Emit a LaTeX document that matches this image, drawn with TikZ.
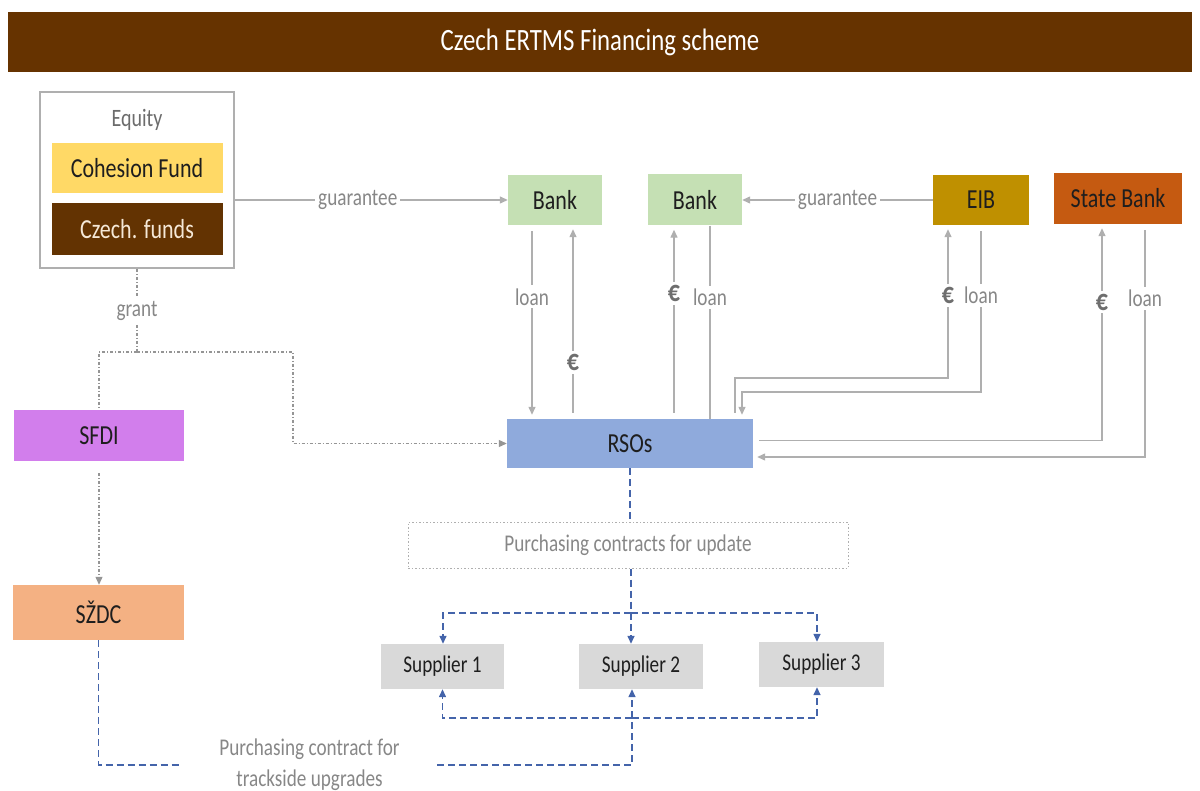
\documentclass[tikz,border=0pt]{standalone}
\usepackage{fontspec}
\setmainfont{Carlito}[FakeStretch=0.8]
\usetikzlibrary{arrows.meta}
\definecolor{titlebrown}{RGB}{102,51,0}
\definecolor{fundyellow}{RGB}{255,217,102}
\definecolor{fundbrown}{RGB}{99,51,2}
\definecolor{bankgreen}{RGB}{197,224,180}
\definecolor{eibgold}{RGB}{191,144,0}
\definecolor{stateorange}{RGB}{197,90,17}
\definecolor{rsoblue}{RGB}{143,170,220}
\definecolor{sfdiviolet}{RGB}{210,126,236}
\definecolor{szdcsalmon}{RGB}{244,177,131}
\definecolor{supgray}{RGB}{217,217,217}
\definecolor{boxtext}{RGB}{30,30,30}
\definecolor{lblgray}{RGB}{135,135,135}
\definecolor{eurogray}{RGB}{110,110,110}
\definecolor{linegray}{RGB}{175,175,175}
\definecolor{contractblue}{RGB}{68,100,170}
\tikzset{
  box/.style={inner sep=0pt, text=boxtext, font=\fontsize{27.5}{30}\selectfont},
  lbl/.style={fill=white, inner sep=3pt, text=lblgray, font=\fontsize{24}{26}\selectfont},
  euro/.style={fill=white, inner sep=3pt, text=eurogray, font=\fontsize{30}{32}\selectfont\bfseries},
  tip/.style={-{Triangle[length=8pt,width=7pt]}},
  link/.style={draw=linegray, line width=1.3pt},
  flow/.style={link, tip, shorten <=6pt, shorten >=4pt},
  grantline/.style={draw=linegray!85!black, line width=1.1pt, dash pattern=on 3pt off 2pt on 1pt off 2pt},
  blueline/.style={draw=contractblue, line width=1.4pt, dash pattern=on 7pt off 4pt}
}
\begin{document}
\begin{tikzpicture}[x=1pt, y=-1pt]
\useasboundingbox (0,0) rectangle (1200,791);

\node[fill=titlebrown, minimum width=1184pt, minimum height=60pt, text=white,
  font=\fontsize{31}{34}\selectfont] (title) at (600,42) {Czech ERTMS Financing scheme};

\node[draw=linegray, line width=2pt, minimum width=194pt, minimum height=176pt] (equity) at (137,180) {};
\node[text=lblgray!80!black, font=\fontsize{25}{28}\selectfont] (eqtitle) at (137,120) {Equity};
\node[box, fill=fundyellow, minimum width=171pt, minimum height=50pt] (cohesion) at (137,168) {Cohesion Fund};
\node[box, fill=fundbrown, text={rgb,255:red,245;green,232;blue,215}, minimum width=171pt, minimum height=52pt] (czfunds) at (137,229) {Czech. funds};

\node[box, fill=bankgreen, minimum width=94pt, minimum height=50pt] (bank1) at (555,200) {Bank};
\node[box, fill=bankgreen, minimum width=94pt, minimum height=51pt] (bank2) at (695,200) {Bank};
\node[box, fill=eibgold, minimum width=96pt, minimum height=50pt] (eib) at (981,200) {EIB};
\node[box, fill=stateorange, minimum width=128pt, minimum height=51pt] (statebank) at (1118,198.5) {State Bank};
\node[box, fill=rsoblue, minimum width=246pt, minimum height=49pt] (rsos) at (630,443.5) {RSOs};
\node[box, fill=sfdiviolet, minimum width=170pt, minimum height=51pt] (sfdi) at (99,435.5) {SFDI};
\node[box, fill=szdcsalmon, minimum width=171pt, minimum height=55pt] (szdc) at (98.5,612.5) {SŽDC};

\node[draw=linegray, line width=1pt, dash pattern=on 1.5pt off 2pt, minimum width=440pt, minimum height=46pt,
  text=lblgray, font=\fontsize{24}{26}\selectfont] (update) at (628,545) {Purchasing contracts for update};

\node[box, fill=supgray, minimum width=123pt, minimum height=45pt, font=\fontsize{24}{26}\selectfont] (sup1) at (442.5,666.5) {Supplier 1};
\node[box, fill=supgray, minimum width=124pt, minimum height=45pt, font=\fontsize{24}{26}\selectfont] (sup2) at (641,666.5) {Supplier 2};
\node[box, fill=supgray, minimum width=125pt, minimum height=45pt, font=\fontsize{24}{26}\selectfont] (sup3) at (821.5,664.5) {Supplier 3};

\node[text=lblgray, align=center, minimum width=255pt, inner sep=0pt,
  font=\fontsize{24}{31}\selectfont] (trk) at (309.5,765) {Purchasing contract for\\trackside upgrades};

\coordinate (eibpay) at (948,378);
\coordinate (eibloan) at (742,392);
\coordinate (grantbus) at (137,352);
\coordinate (grantturn) at (293,352);
\coordinate (upbus) at (631,613);
\coordinate (lowbus) at (632,718);

\draw[link, tip] (equity.east |- bank1.west) -- node[lbl, pos=0.45] {guarantee} (bank1.west);
\draw[link, tip] (eib.west) -- node[lbl, pos=0.5] {guarantee} (bank2.east);

\draw[flow] ([xshift=-23pt]bank1.south) -- node[lbl, pos=0.37] {loan} ([xshift=-23pt]bank1.south |- rsos.north);
\draw[flow] ([xshift=18pt]bank1.south |- rsos.north) -- node[euro, pos=0.29] {€} ([xshift=18pt]bank1.south);

\draw[flow] ([xshift=-21pt]bank2.south |- rsos.north) -- node[euro, pos=0.65] {€} ([xshift=-21pt]bank2.south);
\draw[link] ([xshift=15pt]bank2.south) -- node[lbl, pos=0.37] {loan} ([xshift=15pt]bank2.south |- rsos.north);

\draw[flow] ([xshift=105pt]rsos.north) |- (eibpay) -- node[euro, pos=0.54] {€} (eibpay |- eib.south);
\draw[flow] (eib.south) -- node[lbl, pos=0.42] {loan} (eib.south |- eibloan) -- (eibloan) -- (eibloan |- rsos.north);

\draw[flow] ([yshift=3pt]rsos.east) -| node[euro, pos=0.82] {€} ([xshift=-16pt]statebank.south);
\draw[flow] ([xshift=27pt]statebank.south) |- node[lbl, pos=0.16] {loan} ([yshift=-13.5pt]rsos.east);

\draw[grantline] (equity.south) -- node[lbl] {grant} (grantbus);
\draw[grantline] (grantbus) -| (sfdi.north);
\draw[grantline, tip] (grantbus) -- (grantturn) -- (grantturn |- rsos.west) -- (rsos.west);
\draw[grantline, tip, shorten <=12pt] (sfdi.south) -- (sfdi.south |- szdc.north);

\draw[blueline] (rsos.south) -- (rsos.south |- update.north);
\draw[blueline] (update.south -| upbus) -- (upbus);
\draw[blueline, tip] (upbus) -- (upbus |- sup2.north);
\draw[blueline, tip] (upbus) -| ([xshift=0.5pt]sup1.north);
\draw[blueline, tip] (upbus) -| ([xshift=-4.5pt]sup3.north);

\draw[blueline] (szdc.south) |- (trk.west);
\draw[blueline, tip] (trk.east) -| (lowbus |- sup2.south);
\draw[blueline, tip] (lowbus) -| (sup1.south);
\draw[blueline, tip] (lowbus) -| ([xshift=-4.5pt]sup3.south);
\end{tikzpicture}
\end{document}
